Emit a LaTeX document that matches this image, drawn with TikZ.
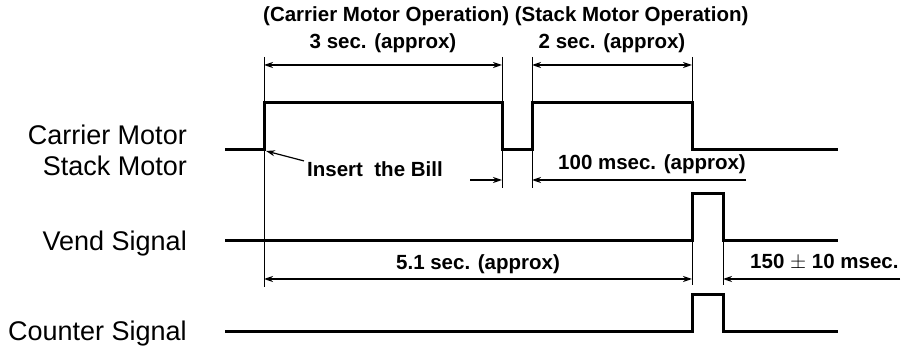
\documentclass[tikz,border=0pt]{standalone}
\usepackage{fontspec}
\setmainfont{Liberation Sans}
\usetikzlibrary{arrows.meta}
\begin{document}
\begin{tikzpicture}[x=1pt,y=-1pt,
  sig/.style={line width=3pt, line join=miter},
  dim/.style={line width=1.4pt},
  ext/.style={line width=0.8pt},
  tipr/.style={-{Stealth[length=9pt,width=6pt]}},
  tipb/.style={{Stealth[length=9pt,width=6pt]}-{Stealth[length=9pt,width=6pt]}},
  lab/.style={font={\fontsize{27}{30}\selectfont}, anchor=base east, inner sep=0pt},
  ann/.style={font={\fontsize{20.5}{23}\selectfont\bfseries}, inner sep=0pt},
]
\useasboundingbox (0,0) rectangle (906,347);

% labels
\node[lab] (carrier) at (187,145) {Carrier Motor};
\node[lab] (stack) at (187,176) {Stack Motor};
\node[lab] (vend) at (187,251) {Vend Signal};
\node[lab] (counter) at (187,341) {Counter Signal};

% motor signal
\coordinate (m0) at (225,150);
\coordinate (m1) at (264,150);
\coordinate (m2) at (264,103);
\coordinate (m3) at (502,103);
\coordinate (m4) at (502,150);
\coordinate (m5) at (532,150);
\coordinate (m6) at (532,103);
\coordinate (m7) at (692,103);
\coordinate (m8) at (692,150);
\coordinate (m9) at (838,150);
\draw[sig] (m0) -- (m1) -- (m2) -- (m3) -- (m4) -- (m5) -- (m6) -- (m7) -- (m8) -- (m9);

% vend signal
\coordinate (v0) at (225,241);
\coordinate (v1) at (692,241);
\coordinate (v2) at (692,194);
\coordinate (v3) at (723,194);
\coordinate (v4) at (723,241);
\coordinate (v5) at (838,241);
\draw[sig] (v0) -- (v1) -- (v2) -- (v3) -- (v4) -- (v5);

% counter signal
\coordinate (k0) at (225,332);
\coordinate (k1) at (692,332);
\coordinate (k2) at (692,295);
\coordinate (k3) at (723,295);
\coordinate (k4) at (723,332);
\coordinate (k5) at (838,332);
\draw[sig] (k0) -- (k1) -- (k2) -- (k3) -- (k4) -- (k5);

% extension lines
\coordinate (e1t) at (264,57);  \coordinate (e1b) at (264,287);
\coordinate (e2t) at (502,57);  \coordinate (e2b) at (502,188);
\coordinate (e3t) at (532,57);  \coordinate (e3b) at (532,188);
\coordinate (e4t) at (692,57);  \coordinate (e4b) at (692,103);
\coordinate (e5t) at (692,241); \coordinate (e5b) at (692,285);
\coordinate (e6t) at (723,241); \coordinate (e6b) at (723,285);
\draw[ext] (e1t) -- (e1b);
\draw[ext] (e2t) -- (e2b);
\draw[ext] (e3t) -- (e3b);
\draw[ext] (e4t) -- (e4b);
\draw[ext] (e5t) -- (e5b);
\draw[ext] (e6t) -- (e6b);

% dimension lines
\coordinate (a1) at (264,65); \coordinate (a2) at (502,65);
\coordinate (b1) at (532,65); \coordinate (b2) at (692,65);
\draw[dim,tipb] (a1) -- (a2);
\draw[dim,tipb] (b1) -- (b2);

\coordinate (c0) at (470,180); \coordinate (c1) at (502,180);
\coordinate (c2) at (532,180); \coordinate (c3) at (746,180);
\draw[dim,tipr] (c0) -- (c1);
\draw[dim,tipr] (c3) -- (c2);

\coordinate (d1) at (264,279); \coordinate (d2) at (692,279);
\draw[dim,tipb] (d1) -- (d2);
\coordinate (f1) at (723,279); \coordinate (f2) at (900,279);
\draw[dim,tipr] (f2) -- (f1);

% annotations
\node[ann, anchor=base west] (op) at (263,22) {(Carrier Motor Operation) (Stack Motor Operation)};
\node[ann, anchor=base] (t3) at (383,49) {3 sec. (approx)};
\node[ann, anchor=base] (t2) at (612,49) {2 sec. (approx)};
\node[ann, anchor=base west] (t100) at (558,170) {100 msec. (approx)};
\node[ann, anchor=base] (t51) at (478,270) {5.1 sec. (approx)};
\node[ann, anchor=base west] (t150) at (750,269) {150 $\pm$ 10 msec.};
\node[ann, anchor=base west] (bill) at (307,177) {Insert~~the Bill};
\coordinate (billtip) at (266,151);
\draw[line width=1.2pt, tipr] ([xshift=-3pt,yshift=1pt]bill.north west) -- (billtip);
\end{tikzpicture}
\end{document}
